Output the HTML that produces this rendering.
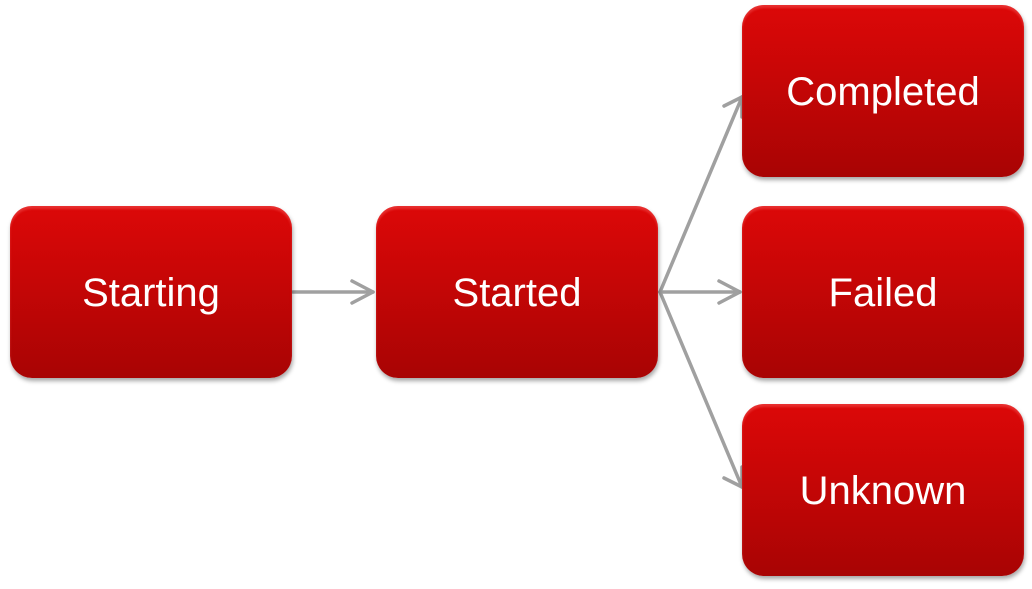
<!DOCTYPE html>
<html><head><style>
body{margin:0;width:1032px;height:589px;background:#fff;position:relative;overflow:hidden;font-family:"Liberation Sans",sans-serif}
.b{position:absolute;width:282px;height:172px;border-radius:22px;background:linear-gradient(#dc0808,#c80606 40%,#a80404);box-shadow:1px 3px 4px rgba(0,0,0,0.35),inset 0 3px 2px rgba(255,120,120,0.35);color:#fff;font-size:40px;display:flex;align-items:center;justify-content:center;padding-top:3px;box-sizing:border-box}
svg{position:absolute;left:0;top:0}
</style></head><body>
<svg width="1032" height="589">
<g stroke="#a0a0a0" stroke-width="3.5" fill="none" stroke-linecap="round" stroke-linejoin="round">
<line x1="293" y1="292" x2="373" y2="292"/><polyline points="352,281 373,292 352,303"/>
<line x1="660" y1="292" x2="742" y2="97"/><polyline points="724,106 742,97 742,117"/>
<line x1="660" y1="292" x2="740" y2="292"/><polyline points="719,281 740,292 719,303"/>
<line x1="660" y1="292" x2="742" y2="487"/><polyline points="742,467 742,487 724,478"/>
</g></svg>
<div class="b" style="left:10px;top:206px">Starting</div>
<div class="b" style="left:376px;top:206px">Started</div>
<div class="b" style="left:742px;top:5px">Completed</div>
<div class="b" style="left:742px;top:206px">Failed</div>
<div class="b" style="left:742px;top:404px">Unknown</div>
</body></html>
